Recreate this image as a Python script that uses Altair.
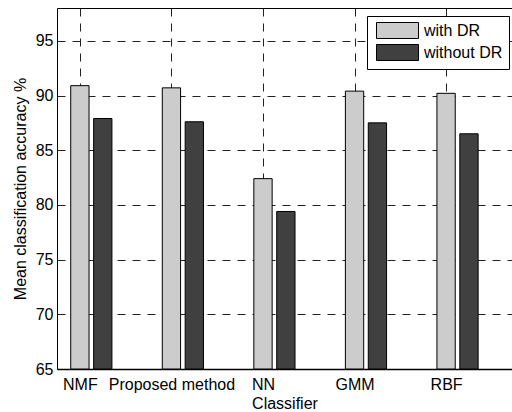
import json
import altair as alt
import pandas as pd

categories = ["NMF", "Proposed method", "NN", "GMM", "RBF"]
series = ["with DR", "without DR"]
with_dr = [90.9, 90.7, 82.4, 90.4, 90.2]
without_dr = [87.9, 87.6, 79.4, 87.5, 86.5]
y_ticks = [65, 70, 75, 80, 85, 90, 95]

rows = []
for i, c in enumerate(categories):
    rows.append({"classifier": c, "idx": i + 1, "series": series[0], "value": with_dr[i], "off": 0.0})
    rows.append({"classifier": c, "idx": i + 1, "series": series[1], "value": without_dr[i], "off": 0.25})
df = pd.DataFrame(rows)

FONT = "Liberation Sans"
label_expr = json.dumps(categories) + "[datum.value - 1]"

xscale = alt.Scale(domain=[0.75, 5.72], nice=False, zero=False)
yscale = alt.Scale(domain=[65, 98], nice=False, zero=False)

base = alt.Chart(df).transform_calculate(
    x0="datum.idx + datum.off - 0.1",
    x1="datum.idx + datum.off + 0.1",
)

bars = base.mark_bar(stroke="black", strokeWidth=1, clip=True).encode(
    x=alt.X("x0:Q", scale=xscale,
            axis=alt.Axis(values=[1, 2, 3, 4, 5], labelExpr=label_expr, title="Classifier",
                          grid=True, gridDash=[8, 7], gridColor="#222222", gridWidth=1,
                          ticks=False, tickSize=0, labelPadding=7, titlePadding=3,
                          domainColor="black", domainWidth=1.5)),
    x2="x1:Q",
    y=alt.Y("value:Q", scale=yscale,
            axis=alt.Axis(values=y_ticks, title="Mean classification accuracy %",
                          grid=True, gridDash=[8, 7], gridColor="#222222", gridWidth=1,
                          ticks=False, tickSize=0, labelPadding=4, titlePadding=7,
                          domainColor="black", domainWidth=1)),
    y2=alt.datum(65),
    color=alt.Color("series:N", scale=alt.Scale(domain=series, range=["#cccccc", "#404040"]),
                    legend=alt.Legend(title=None, orient="none", legendX=310, legendY=8,
                                      symbolType="M-2.625,-1H2.625V1H-2.625Z", symbolSize=256,
                                      symbolStrokeColor="black", symbolStrokeWidth=1,
                                      symbolOffset=16, labelOffset=18,
                                      labelFontSize=16, labelFont=FONT, labelColor="black",
                                      padding=6, rowPadding=1,
                                      strokeColor="black", fillColor="white")),
)

top = base.mark_bar(opacity=0).encode(
    x=alt.X("x0:Q", scale=xscale,
            axis=alt.Axis(orient="top", labels=False, ticks=False, grid=False, title=None,
                          domainColor="black", domainWidth=1)),
    x2="x1:Q",
    y=alt.Y("value:Q", scale=yscale),
    y2=alt.datum(65),
)

chart = alt.layer(bars, top).resolve_axis(x="independent").properties(
    width=455, height=361,
    autosize=alt.AutoSizeParams(type="none"),
    padding={"left": 57, "top": 8, "right": 0, "bottom": 43},
    background="white",
).configure_view(stroke=None).configure_axis(
    labelFont=FONT, titleFont=FONT, labelFontSize=16, titleFontSize=16,
    labelColor="black", titleColor="black", titleFontWeight="normal",
)

chart.save("out.html", embed_options={"renderer": "svg", "actions": False})
